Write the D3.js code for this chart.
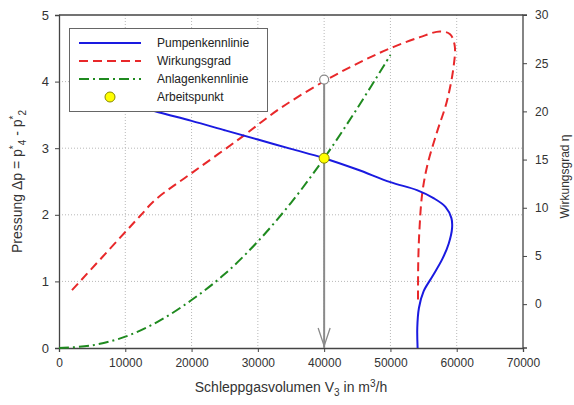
<!DOCTYPE html>
<html><head><meta charset="utf-8">
<script src="https://cdn.jsdelivr.net/npm/d3@7"></script>
<style>body{margin:0;background:#fff;} svg{display:block;font-family:"Liberation Sans",Arial,sans-serif;}</style>
</head><body>
<svg id="c" width="574" height="405"></svg>
<script>
// Pumpenkennlinie (left axis)
const pumpX = [10000,15000,20000,25000,30000,35000,40000,45000,50000,54000,56500,58300,59200,59300,58800,57800,56300,55000,54300,54050,54100];
const pumpY = [3.68,3.54,3.41,3.27,3.13,2.99,2.85,2.68,2.49,2.37,2.25,2.12,1.95,1.80,1.57,1.33,1.07,0.85,0.60,0.30,0.0];
// Wirkungsgrad (right axis)
const effX = [1960,12220,14480,20220,27310,33340,40430,46000,50500,54460,57480,59000,59700,59500,58500,57000,55600,54800,54400,54200,54160];
const effY = [1.45,9.14,10.8,13.7,17.2,20.3,23.3,25.3,26.7,27.7,28.3,28.0,26.8,24.5,21.0,17.8,14.5,11.5,8.0,4.5,0.1];
// Anlagenkennlinie (left axis)
const sysX = [0,5000,10000,15000,20000,25000,30000,35000,40000,45000,50000];
const sysY = [0,0.04,0.17,0.40,0.72,1.11,1.60,2.18,2.85,3.60,4.40];
// Arbeitspunkt
const opX = [40000];
const opY = [2.85];
const opEff = [23.3];
// ticks
const xTicks = [0,10000,20000,30000,40000,50000,60000,70000];
const yTicks = [0,1,2,3,4,5];
const y2Ticks = [0,5,10,15,20,25,30];
const legendLabels = ["Pumpenkennlinie","Wirkungsgrad","Anlagenkennlinie","Arbeitspunkt"];

const svg = d3.select("#c");
const L=59, R=523, T=15, B=348;
const x = d3.scaleLinear().domain([0,70000]).range([L,R]);
const y = d3.scaleLinear().domain([0,5]).range([B,T]);
const y2 = d3.scaleLinear().domain([-4.55,30]).range([B,T]);

// grid
const grid = svg.append("g").attr("stroke","#b8b8b8").attr("stroke-width",1).attr("stroke-dasharray","1,2");
xTicks.filter(d=>d>0&&d<70000).forEach(d=>grid.append("line").attr("x1",x(d)).attr("x2",x(d)).attr("y1",T).attr("y2",B));
yTicks.filter(d=>d>0&&d<5).forEach(d=>grid.append("line").attr("x1",L).attr("x2",R).attr("y1",y(d)).attr("y2",y(d)));

// axes
const fmt = d3.format("d");
const ax = svg.append("g").attr("transform",`translate(0,${B})`).call(d3.axisBottom(x).tickValues(xTicks).tickFormat(fmt).tickSize(4).tickPadding(6));
const ayl = svg.append("g").attr("transform",`translate(${L},0)`).call(d3.axisLeft(y).tickValues(yTicks).tickFormat(fmt).tickSize(4).tickPadding(6));
const ayr = svg.append("g").attr("transform",`translate(${R},0)`).call(d3.axisRight(y2).tickValues(y2Ticks).tickFormat(fmt).tickSize(4).tickPadding(8));
[ax,ayl,ayr].forEach(g=>{
  g.selectAll("path").attr("stroke","#444").attr("stroke-width",1.3);
  g.selectAll("line").attr("stroke","#444");
  g.selectAll("text").attr("fill","#333").style("font-size","12px");
});
ayl.selectAll("text").style("font-size","13px");
ayr.select(".domain").attr("d",`M4,${T}H0V${B}H4`);
svg.append("line").attr("x1",L).attr("x2",R).attr("y1",T).attr("y2",T).attr("stroke","#444").attr("stroke-width",1.3);

// lines
const mk = (xs,ys,ysc)=>d3.line().x((d,i)=>x(xs[i])).y((d,i)=>ysc(ys[i])).curve(d3.curveCatmullRom.alpha(0.5))(xs);
svg.append("path").attr("d",mk(sysX,sysY,y)).attr("fill","none").attr("stroke","#1f8a1f").attr("stroke-width",2).attr("stroke-dasharray","10,4,2,4");
svg.append("path").attr("d",mk(effX,effY,y2)).attr("fill","none").attr("stroke","#e8282a").attr("stroke-width",2).attr("stroke-dasharray","9,5");
svg.append("path").attr("d",mk(pumpX,pumpY,y)).attr("fill","none").attr("stroke","#1a1ae0").attr("stroke-width",2);

// vertical marker line with arrow
const vx = x(opX[0]);
svg.append("line").attr("x1",vx).attr("x2",vx).attr("y1",y2(opEff[0])).attr("y2",B).attr("stroke","#8a8a8a").attr("stroke-width",2);
svg.append("path").attr("d",`M${vx-6},${B-20}L${vx},${B-2}L${vx+6},${B-20}`).attr("fill","none").attr("stroke","#8a8a8a").attr("stroke-width",1.3);
svg.append("circle").attr("cx",vx).attr("cy",y2(opEff[0])).attr("r",4.5).attr("fill","#fff").attr("stroke","#888").attr("stroke-width",1.2);
svg.append("circle").attr("cx",x(opX[0])).attr("cy",y(opY[0])).attr("r",5).attr("fill","#ffff00").attr("stroke","#888800").attr("stroke-width",1);

// legend
const lg = svg.append("g");
lg.append("rect").attr("x",69.5).attr("y",28.5).attr("width",198).attr("height",83).attr("fill","#fff").attr("stroke","#666").attr("stroke-width",1);
const rows=[43,61,79,97];
lg.append("line").attr("x1",79).attr("x2",141).attr("y1",rows[0]).attr("y2",rows[0]).attr("stroke","#1a1ae0").attr("stroke-width",2);
lg.append("line").attr("x1",79).attr("x2",141).attr("y1",rows[1]).attr("y2",rows[1]).attr("stroke","#e8282a").attr("stroke-width",2).attr("stroke-dasharray","9,5");
lg.append("line").attr("x1",79).attr("x2",141).attr("y1",rows[2]).attr("y2",rows[2]).attr("stroke","#1f8a1f").attr("stroke-width",2).attr("stroke-dasharray","10,4,2,4");
lg.append("circle").attr("cx",110).attr("cy",rows[3]).attr("r",5).attr("fill","#ffff00").attr("stroke","#888800");
legendLabels.forEach((t,i)=>lg.append("text").attr("x",157).attr("y",rows[i]+4).text(t).style("font-size","12px").attr("fill","#222"));

// titles
const xt = svg.append("text").attr("x",(L+R)/2).attr("y",392).attr("text-anchor","middle").style("font-size","14px").attr("fill","#333");
xt.append("tspan").text("Schleppgasvolumen V");
xt.append("tspan").text("3").attr("dy",4).style("font-size","10px");
xt.append("tspan").text(" in m").attr("dy",-4);
xt.append("tspan").text("3").attr("dy",-5).style("font-size","10px");
xt.append("tspan").text("/h").attr("dy",5);

const yt = svg.append("text").attr("transform",`translate(22,${(T+B)/2}) rotate(-90)`).attr("text-anchor","middle").style("font-size","14px").attr("fill","#333");
yt.append("tspan").text("Pressung Δp = p");
yt.append("tspan").text("*").attr("dy",-5).style("font-size","10px");
yt.append("tspan").text("4").attr("dy",9).style("font-size","10px");
yt.append("tspan").text(" - p").attr("dy",-4);
yt.append("tspan").text("*").attr("dy",-5).style("font-size","10px");
yt.append("tspan").text("2").attr("dy",9).style("font-size","10px");

svg.append("text").attr("transform",`translate(569,${(T+B)/2-5}) rotate(-90)`).attr("text-anchor","middle").style("font-size","12px").attr("fill","#333").text("Wirkungsgrad η");
</script>
</body></html>
